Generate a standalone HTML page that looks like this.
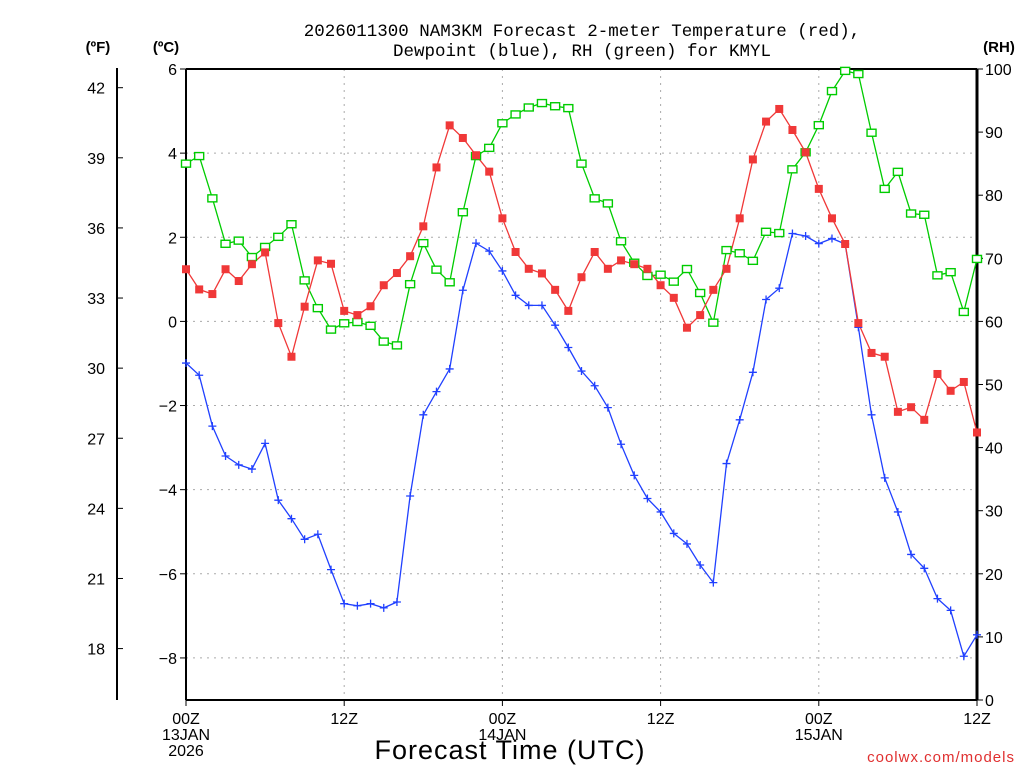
<!DOCTYPE html>
<html><head><meta charset="utf-8"><style>
html,body{margin:0;padding:0;background:#fff;}
svg{display:block;font-family:"Liberation Sans",sans-serif;}
</style></head><body>
<svg id="chart" width="1024" height="768" viewBox="0 0 1024 768" xmlns="http://www.w3.org/2000/svg">
<rect width="1024" height="768" fill="#fff"/>
<text x="582" y="36" text-anchor="middle" font-size="17.5" font-family="Liberation Mono, monospace">2026011300 NAM3KM Forecast 2-meter Temperature (red),</text>
<text x="582" y="56" text-anchor="middle" font-size="17.5" font-family="Liberation Mono, monospace">Dewpoint (blue), RH (green) for KMYL</text>
<text x="98" y="52" text-anchor="middle" font-size="15" font-weight="bold">(ºF)</text>
<text x="166" y="52" text-anchor="middle" font-size="15" font-weight="bold">(ºC)</text>
<text x="999" y="52" text-anchor="middle" font-size="15" font-weight="bold">(RH)</text>
<g id="grid"></g>
<g id="axes"></g>
<g id="series"></g>
<text x="510" y="759" text-anchor="middle" font-size="27" letter-spacing="1">Forecast Time (UTC)</text>
<text x="1015" y="762" text-anchor="end" font-size="15" fill="#e03030" letter-spacing="1">coolwx.com/models</text>
</svg>
<script>
const tempC=[1.24,0.76,0.65,1.24,0.96,1.36,1.64,-0.04,-0.84,0.35,1.45,1.37,0.25,0.15,0.36,0.86,1.15,1.55,2.26,3.66,4.66,4.36,3.95,3.56,2.45,1.65,1.25,1.14,0.75,0.25,1.05,1.65,1.25,1.45,1.36,1.25,0.86,0.56,-0.15,0.15,0.75,1.25,2.45,3.85,4.75,5.05,4.55,4.02,3.15,2.45,1.84,-0.04,-0.75,-0.84,-2.15,-2.04,-2.34,-1.25,-1.65,-1.44,-2.64];
const dewC=[-0.99,-1.28,-2.49,-3.20,-3.41,-3.51,-2.90,-4.25,-4.69,-5.18,-5.06,-5.90,-6.71,-6.76,-6.71,-6.81,-6.67,-4.15,-2.22,-1.67,-1.13,0.74,1.86,1.67,1.20,0.62,0.38,0.38,-0.09,-0.62,-1.18,-1.53,-2.05,-2.92,-3.66,-4.21,-4.53,-5.04,-5.29,-5.79,-6.21,-3.38,-2.34,-1.21,0.52,0.79,2.09,2.03,1.85,1.97,1.84,-0.14,-2.22,-3.72,-4.53,-5.54,-5.87,-6.59,-6.87,-7.96,-7.45];
const rh=[85.0,86.2,79.5,72.3,72.8,70.2,71.8,73.4,75.4,66.5,62.1,58.7,59.7,59.9,59.3,56.8,56.2,65.9,72.4,68.2,66.2,77.3,86.2,87.5,91.4,92.8,93.9,94.6,94.1,93.8,85.0,79.5,78.7,72.7,69.3,67.2,67.4,66.3,68.3,64.5,59.8,71.3,70.8,69.6,74.2,74.0,84.1,86.8,91.1,96.5,99.7,99.2,89.9,81.0,83.7,77.1,76.9,67.3,67.8,61.5,69.9];
const cTicks=[6,4,2,0,-2,-4,-6,-8];
const fTicks=[42,39,36,33,30,27,24,21,18];
const rhTicks=[100,90,80,70,60,50,40,30,20,10,0];
const xTickLabels=[["00Z","13JAN","2026"],["12Z"],["00Z","14JAN"],["12Z"],["00Z","15JAN"],["12Z"]];
const NS="http://www.w3.org/2000/svg";
const L=186,R=977,T=69,B=700;
function xI(i,n){return L+(R-L)*i/(n-1);}
function xTick(k){return L+(R-L)*k/(xTickLabels.length-1);}
function yC(c){return B-(c+9)/15*(B-T);}
function yF(f){return yC((f-32)/1.8);}
function yRH(v){return B-v/100*(B-T);}
function mk(tag,attrs,parent){const e=document.createElementNS(NS,tag);for(const k in attrs)e.setAttribute(k,attrs[k]);parent.appendChild(e);return e;}
const grid=document.getElementById('grid'),axes=document.getElementById('axes'),ser=document.getElementById('series');
cTicks.forEach(c=>{const g=mk('line',{x1:L,x2:R,y1:yC(c),y2:yC(c),stroke:'#aaa','stroke-dasharray':'2,5'},grid);

});
for(let k=1;k<xTickLabels.length-1;k++){const g=mk('line',{x1:xTick(k),x2:xTick(k),y1:T,y2:B,stroke:'#aaa','stroke-dasharray':'2,5'},grid);

}
let fr=mk('line',{x1:L,x2:R,y1:T,y2:T,stroke:'#000','stroke-width':2},axes);


fr=mk('line',{x1:L,x2:R,y1:B,y2:B,stroke:'#000','stroke-width':2},axes);


fr=mk('line',{x1:L,x2:L,y1:T,y2:B,stroke:'#000','stroke-width':2},axes);


fr=mk('line',{x1:R,x2:R,y1:T,y2:B,stroke:'#000','stroke-width':3},axes);


fr=mk('line',{x1:117,x2:117,y1:68,y2:700,stroke:'#000','stroke-width':2},axes);


cTicks.forEach(c=>{const y=yC(c);mk('line',{x1:L-6,x2:L,y1:y,y2:y,stroke:'#000'},axes);
const t=mk('text',{x:L-9,y:y+6,'text-anchor':'end','font-size':16},axes);t.textContent=String(c).replace('-','\u2212');

});
fTicks.forEach(f=>{const y=yF(f);mk('line',{x1:117,x2:123,y1:y,y2:y,stroke:'#000'},axes);
const t=mk('text',{x:105,y:y+6,'text-anchor':'end','font-size':16},axes);t.textContent=f;

});
rhTicks.forEach(v=>{const y=yRH(v);mk('line',{x1:R,x2:R+6,y1:y,y2:y,stroke:'#000'},axes);
const t=mk('text',{x:R+8,y:y+6,'font-size':16},axes);t.textContent=v;

});
xTickLabels.forEach((lines,k)=>{const x=xTick(k);mk('line',{x1:x,x2:x,y1:B,y2:B+6,stroke:'#000'},axes);
lines.forEach((s,j)=>{const t=mk('text',{x:x,y:724+j*16,'text-anchor':'middle','font-size':16},axes);t.textContent=s;

});});
function line(vals,yf,color,name){const n=vals.length;const pts=vals.map((v,i)=>xI(i,n).toFixed(1)+','+yf(v).toFixed(1)).join(' ');
const p=mk('polyline',{points:pts,fill:'none',stroke:color,'stroke-width':1.3},ser);

}
line(rh,yRH,'#00cc00','rh');
line(dewC,yC,'#2040ff','dewpoint');
line(tempC,yC,'#f03838','temperature');
rh.forEach((v,i)=>{const r=mk('rect',{x:xI(i,rh.length)-4.5,y:yRH(v)-3.5,width:9,height:7,fill:'#fff',stroke:'#00cc00','stroke-width':1.4},ser);

});
dewC.forEach((v,i)=>{const x=xI(i,dewC.length),y=yC(v);const p=mk('path',{d:`M${x-4},${y}H${x+4}M${x},${y-4}V${y+4}`,stroke:'#2040ff','stroke-width':1.3},ser);

});
tempC.forEach((v,i)=>{const r=mk('rect',{x:xI(i,tempC.length)-4,y:yC(v)-4,width:8,height:8,fill:'#f03838'},ser);

});
</script>
</body></html>
